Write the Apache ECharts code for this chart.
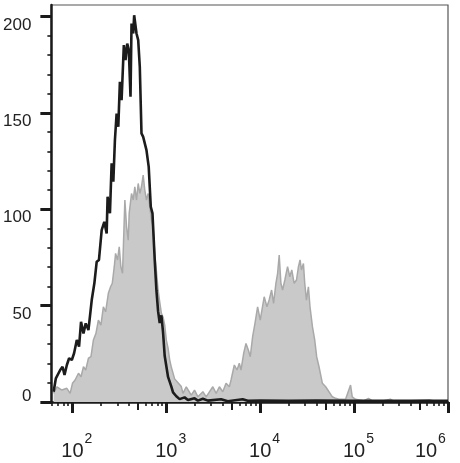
<!DOCTYPE html>
<html>
<head>
<meta charset="utf-8">
<script src="https://cdn.jsdelivr.net/npm/echarts@6/dist/echarts.min.js"></script>
<style>
html,body{margin:0;padding:0;background:#fff;}
#chart{width:460px;height:463px;}
</style>
</head>
<body>
<div id="chart"></div>
<script>
// x values are log10 of fluorescence intensity
var blackLogX = [1.799,1.823,1.869,1.894,1.915,1.940,1.964,1.993,2.017,2.046,2.070,2.091,2.117,2.141,2.170,2.205,2.233,2.258,2.282,2.311,2.339,2.364,2.374,2.399,2.417,2.435,2.452,2.470,2.488,2.505,2.523,2.547,2.565,2.583,2.600,2.618,2.629,2.647,2.657,2.664,2.682,2.700,2.717,2.735,2.753,2.788,2.812,2.834,2.852,2.876,2.894,2.912,2.929,2.947,2.965,2.982,3.018,3.053,3.071,3.088,3.106,3.141,3.194,3.230,3.300,3.336,3.389,3.442,3.583,3.654,3.813,3.866,4.0,4.3,4.6,5.0,5.5,6.0];
var blackCount = [5.3,12.3,16.6,18.3,14,19.2,22.7,21.8,25.3,32.2,28.7,41.6,35.6,40.8,37.3,52.9,61.6,72.8,73.7,89.2,93.5,87.5,106.5,97.9,123.8,114.3,135.9,149.7,142.8,166.1,156.6,185.2,177.4,186,182.6,158.4,196.4,191.2,200.7,199.8,191.2,187.8,173.9,139.4,137.6,130.7,122,101.3,97.9,73.7,58,47,41,45,36,24,13,8,5,6,3,1.5,2.4,1,1.9,0.7,1.7,0.7,1.4,0.4,1.4,0.6,0.8,0.6,0.7,0.6,0.6,0.6];

var grayLogX = [1.799,1.834,1.887,1.940,1.975,2.000,2.028,2.064,2.091,2.117,2.141,2.170,2.197,2.223,2.250,2.276,2.303,2.329,2.353,2.382,2.406,2.424,2.445,2.459,2.480,2.498,2.515,2.533,2.558,2.576,2.594,2.604,2.629,2.647,2.664,2.682,2.700,2.717,2.735,2.753,2.770,2.788,2.806,2.823,2.841,2.859,2.876,2.894,2.912,2.929,2.947,2.965,2.982,3.000,3.018,3.035,3.053,3.071,3.088,3.124,3.141,3.159,3.177,3.212,3.230,3.265,3.300,3.336,3.389,3.424,3.495,3.530,3.565,3.601,3.636,3.671,3.689,3.724,3.753,3.777,3.795,3.824,3.848,3.873,3.894,3.919,3.944,3.972,4.000,4.018,4.042,4.071,4.095,4.121,4.142,4.167,4.185,4.202,4.220,4.238,4.262,4.291,4.315,4.336,4.361,4.386,4.407,4.424,4.439,4.460,4.474,4.492,4.513,4.530,4.556,4.580,4.601,4.626,4.662,4.697,4.732,4.768,4.803,4.838,4.909,4.962,4.980,5.015,5.1,5.153,5.195,5.3,5.386,5.42,5.6,5.8,5.85,6.0];
var grayCount = [4.5,7.9,6.2,7.1,4.5,9.7,11.4,14.9,13.1,18.3,16.6,22.7,23.5,32.2,35.6,42.5,39.9,49.4,46.8,56.4,59.8,61.6,70.2,77.1,73.7,80.5,70.2,66.8,104.8,90.9,84,97.9,108.2,104.8,111.7,104.8,113.4,108.2,111.7,117.7,110,104.8,108.2,101.3,94.4,90.9,77.1,68,58,52,46,44,40,32,28,22,18,15,12,10,11,8,4.5,7.9,8.8,3.6,6.2,2.7,5.3,2.7,7.9,4.5,7.9,5.3,9.7,7.9,11.4,19.2,16.6,20.1,16.6,25.3,30.4,27,23.5,33.9,40.8,49.4,42.5,47.7,54.6,49.4,52.9,58.1,51.2,61.6,66.8,76.2,61.6,58.1,63.3,70.2,65,68.5,61.6,63.3,70.2,73.7,68.5,71.9,61.6,52.9,59.8,49.4,39.1,32.2,23.5,18.3,9.7,7.9,5.3,2.7,1.9,1.4,1.4,8.8,2.7,1.4,0.6,1.9,0.6,0.5,1.5,0.5,0.6,1.2,0.5,0.5];

var xDecades = [2,3,4,5,6];
var yMajor = [0,50,100,150,200];
var yLabels = [50,100,150,200];

var XMIN = 1.775, XMAX = 6, YMAX = 206;

function zip(a,b){ return a.map(function(v,i){ return [v,b[i]]; }); }
var minorX = [], midX = [];
for (var d = 1; d <= 5; d++) {
  for (var k = 2; k <= 9; k++) {
    var v = d + Math.log10(k);
    if (v < XMIN || v > XMAX) continue;
    if (k === 5) midX.push(v); else minorX.push(v);
  }
}
var minorY = [];
for (var y = 10; y < 200; y += 10) if (y % 50 !== 0) minorY.push(y);

var dark = '#1a1a1a';
var fontFam = 'Liberation Sans, Arial, sans-serif';

function xAx(extra){
  var base = {type:'value', min:XMIN, max:XMAX, position:'bottom', gridIndex:0,
    splitLine:{show:false}, axisLine:{show:false}, axisTick:{show:false}, axisLabel:{show:false}};
  for (var k in extra) base[k] = extra[k];
  return base;
}
function yAx(extra){
  var base = {type:'value', min:0, max:YMAX, position:'left', gridIndex:0,
    splitLine:{show:false}, axisLine:{show:false}, axisTick:{show:false}, axisLabel:{show:false}};
  for (var k in extra) base[k] = extra[k];
  return base;
}

var chart = echarts.init(document.getElementById('chart'), null, {renderer:'canvas'});
chart.setOption({
  animation:false,
  backgroundColor:'#ffffff',
  grid:{left:50, right:12, top:5, bottom:61, show:true, borderColor:'#555', borderWidth:1.2, backgroundColor:'transparent'},
  xAxis:[
    xAx({axisLine:{show:true, onZero:false, lineStyle:{color:dark, width:2.5}},
         axisTick:{show:true, length:11, customValues:xDecades, lineStyle:{color:dark, width:3}},
         axisLabel:{show:true, customValues:xDecades, margin:39, fontSize:20, color:'#222', fontFamily:fontFam,
           formatter:function(v){ return v === 6 ? '{c|10}' : '{b|10}'; },
           rich:{b:{fontSize:20, fontFamily:fontFam, color:'#222'},
                 c:{fontSize:20, fontFamily:fontFam, color:'#222', padding:[0,44,0,0]}}}}),
    xAx({axisTick:{show:true, length:4, customValues:minorX, lineStyle:{color:dark, width:1.6}}}),
    xAx({axisTick:{show:true, length:8, customValues:midX, lineStyle:{color:dark, width:2}}}),
    xAx({axisLabel:{show:true, customValues:xDecades, margin:30, fontSize:14, color:'#222', fontFamily:fontFam,
           formatter:function(v){ return v === 6 ? '{r|6}' : '{e|' + v + '}'; },
           rich:{e:{fontSize:14, fontFamily:fontFam, color:'#222', padding:[0,0,0,32]},
                 r:{fontSize:14, fontFamily:fontFam, color:'#222', padding:[0,12,0,0]}}}})
  ],
  yAxis:[
    yAx({axisLine:{show:true, onZero:false, lineStyle:{color:dark, width:2.5}},
         axisTick:{show:true, length:11, customValues:yMajor, lineStyle:{color:dark, width:3}},
         axisLabel:{show:true, customValues:yLabels, margin:20, fontSize:17, color:'#222', fontFamily:fontFam, verticalAlign:'top'}}),
    yAx({axisTick:{show:true, length:4, customValues:minorY, lineStyle:{color:dark, width:1.6}}}),
    yAx({axisLabel:{show:true, customValues:[0], margin:20, fontSize:17, lineHeight:12, color:'#222', fontFamily:fontFam, verticalAlign:'bottom'}})
  ],
  series:[
    {type:'line', name:'stained', xAxisIndex:0, yAxisIndex:0, data:zip(grayLogX, grayCount),
     showSymbol:false, symbol:'none', lineStyle:{color:'#a9a9a9', width:1.5},
     areaStyle:{color:'#c9c9c9', opacity:1}, z:2},
    {type:'line', name:'control', xAxisIndex:0, yAxisIndex:0, data:zip(blackLogX, blackCount),
     showSymbol:false, symbol:'none', lineStyle:{color:'#1c1c1c', width:2.6}, z:3}
  ]
});
</script>
</body>
</html>
